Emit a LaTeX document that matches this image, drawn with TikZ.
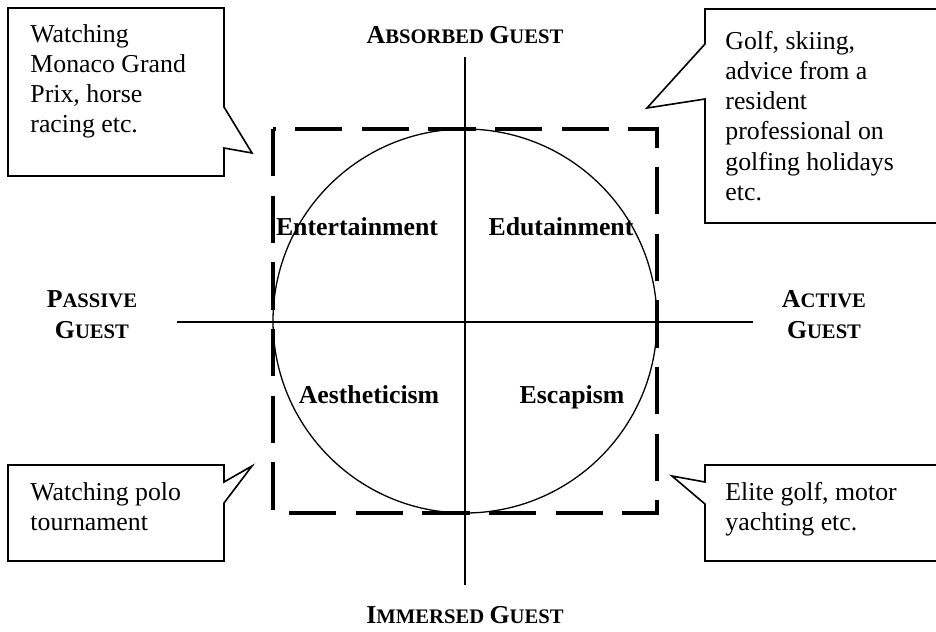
\documentclass[tikz,border=0pt]{standalone}
\usepackage{fontspec}
\setmainfont{Liberation Serif}
\usepackage{tikz}
\usetikzlibrary{positioning, calc}

% fake small caps: big first letter, smaller rest
\newcommand{\capsc}[2]{{\fontsize{12}{14}\selectfont #1}{\fontsize{9.6}{14}\selectfont #2}}

\tikzset{
  axis line/.style={line width=0.9pt},
  frame dash/.style={line width=2.1pt, dash pattern=on 22pt off 9pt},
  callout/.style={line width=0.75pt, fill=white},
  box text/.style={anchor=north west, inner sep=0pt, align=left, font=\fontsize{12}{14}\selectfont},
  quad text/.style={anchor=base, inner sep=0pt, font=\bfseries\fontsize{12}{14}\selectfont},
  guest text/.style={anchor=base, inner sep=0pt, align=center, font=\bfseries}
}

\begin{document}
\begin{tikzpicture}[x=0.465pt, y=-0.465pt]
\useasboundingbox (0,0) rectangle (936,631);
\clip (0,0) rectangle (936,631);

% axes
\coordinate (top) at (465,57);
\coordinate (bottom) at (465,585);
\coordinate (left) at (177,322);
\coordinate (right) at (753,322);
\draw[axis line] (top) -- (bottom);
\draw[axis line] (left) -- (right);

% circle and dashed frame
\coordinate (centre) at (465,321);
\draw[line width=0.6pt] (centre) circle [radius=192];
\draw[frame dash] (273,129) rectangle (657,513);

% quadrants
\node[quad text] (entertain) at (357,235) {Entertainment};
\node[quad text] (edutain) at (561,235) {Edutainment};
\node[quad text] (aesthetic) at (369,403) {Aestheticism};
\node[quad text] (escape) at (572,403) {Escapism};

% guest labels
\node[guest text] (absorbed) at (465,43) {\capsc{A}{BSORBED} \capsc{G}{UEST}};
\node[guest text] (immersed) at (465,623) {\capsc{I}{MMERSED} \capsc{G}{UEST}};
\node[guest text] (passive) at (92,338) {\capsc{P}{ASSIVE}\\[2pt]\capsc{G}{UEST}};
\node[guest text] (active) at (824,338) {\capsc{A}{CTIVE}\\[2pt]\capsc{G}{UEST}};

% callouts
\draw[callout] (8,8) -- (224,8) -- (224,107) -- (252,153) -- (224,148) -- (224,176) -- (8,176) -- cycle;
\node[box text] (monaco) at (30,24) {Watching\\Monaco Grand\\Prix, horse\\racing etc.};

\draw[callout] (705,9) -- (945,9) -- (945,223) -- (705,223) -- (705,99) -- (647,108) -- (705,44) -- cycle;
\node[box text] (golf) at (725,31) {Golf, skiing,\\advice from a\\resident\\professional on\\golfing holidays\\etc.};

\draw[callout] (8,465) -- (224,465) -- (224,482) -- (252,466) -- (224,503) -- (224,561) -- (8,561) -- cycle;
\node[box text] (polo) at (30,482) {Watching polo\\tournament};

\draw[callout] (705,465) -- (945,465) -- (945,561) -- (705,561) -- (705,504) -- (672,476) -- (705,482) -- cycle;
\node[box text] (yacht) at (725,482) {Elite golf, motor\\yachting etc.};

\end{tikzpicture}
\end{document}
